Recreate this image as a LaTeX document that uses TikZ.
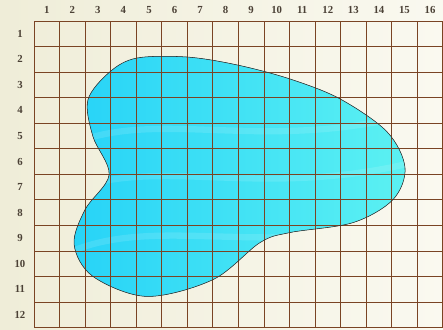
\documentclass[tikz,border=0pt]{standalone}
\usepackage{fontspec}
\setmainfont{Liberation Serif}
\usetikzlibrary{calc}
\definecolor{paper}{HTML}{EFEDD8}
\definecolor{paperlt}{HTML}{FAF9F0}
\definecolor{gridbrown}{HTML}{7A4424}
\definecolor{lbl}{HTML}{4B4136}
\definecolor{pool}{HTML}{27D3F7}
\definecolor{poollt}{HTML}{5CF1F2}
\newcommand{\poolshape}{plot[smooth cycle,tension=0.55] coordinates {
  (4.03,-1.45) (5.99,-1.41) (7.95,-1.72) (10.02,-2.27) (11.98,-3.05)
  (13.82,-4.34) (14.52,-5.74) (14.05,-6.99) (12.49,-7.89) (10.02,-8.28)
  (8.85,-8.67) (7.01,-10.12) (4.42,-10.78) (2.31,-10.00) (1.57,-8.75)
  (2.00,-7.38) (2.94,-6.02) (2.31,-4.53) (2.11,-3.09) (2.97,-1.99)}}
\tikzset{
  gridline/.style={draw=gridbrown,line width=0.9pt},
  cellnum/.style={font=\bfseries\large,text=lbl,inner sep=1pt},
  rim/.style={draw=black!80,line width=0.6pt},
  streak/.style={draw=white,line width=7pt,opacity=0.12,line cap=round},
}

\begin{document}
\begin{tikzpicture}
\useasboundingbox (-1.331,0.822) rectangle (16.008,-12.094);
% paper
\shade[left color=paper,right color=paperlt] (-1.331,0.822) rectangle (16.008,-12.094);
% pool
\fill[left color=pool,right color=poollt] \poolshape;
\begin{scope}
  \clip \poolshape;
  \draw[streak] (1.5,-4.8) .. controls (5,-3.4) and (9,-5.2) .. (15,-3.6);
  \draw[streak] (1.5,-6.6) .. controls (5,-5.3) and (9,-7.0) .. (15,-5.5);
  \draw[streak] (1.5,-9.0) .. controls (5,-7.6) and (9,-9.3) .. (15,-7.8);
\end{scope}
% grid
\draw[gridline] (0,0) grid (16,-12);
\draw[rim] \poolshape;
% labels
\foreach \i in {1,...,16}
  \node[cellnum] (col\i) at (\i-0.5,0.43) {\i};
\foreach \r in {1,...,12}
  \node[cellnum] (row\r) at (-0.55,-\r+0.5) {\r};
\end{tikzpicture}
\end{document}
